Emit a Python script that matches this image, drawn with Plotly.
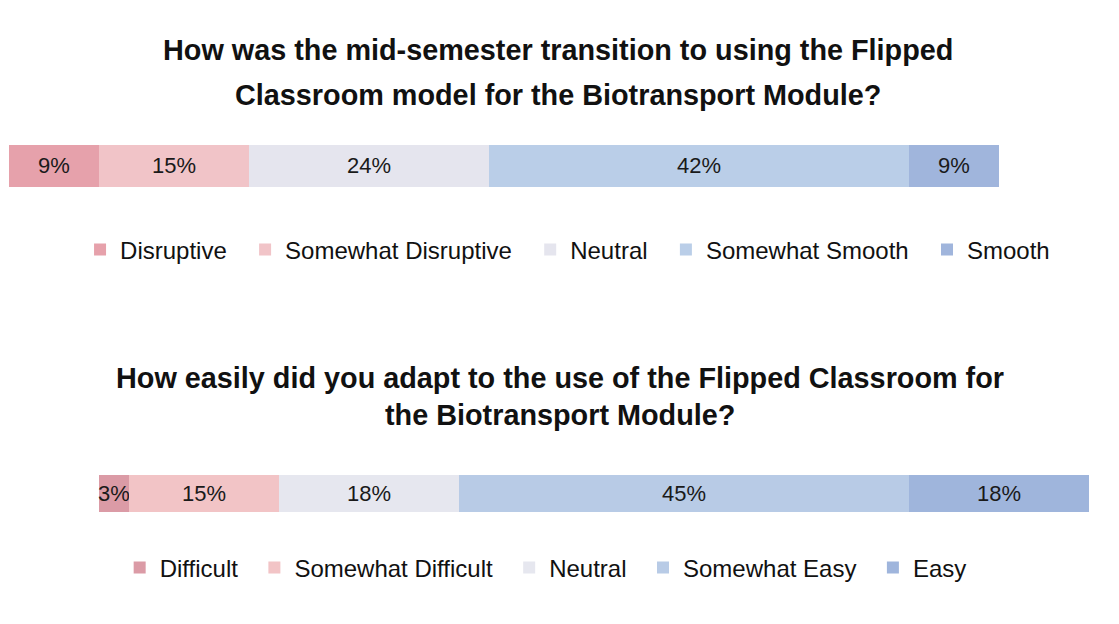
import plotly.graph_objects as go

# ---- data ----
q1_title = ["How was the mid-semester transition to using the Flipped",
            "Classroom model for the Biotransport Module?"]
q1_labels = ["Disruptive", "Somewhat Disruptive", "Neutral", "Somewhat Smooth", "Smooth"]
q1_values = [9, 15, 24, 42, 9]

q2_title = ["How easily did you adapt to the use of the Flipped Classroom for",
            "the Biotransport Module?"]
q2_labels = ["Difficult", "Somewhat Difficult", "Neutral", "Somewhat Easy", "Easy"]
q2_values = [3, 15, 18, 45, 18]

q1_colors = ["#e6a1ab", "#f1c4c8", "#e5e5ee", "#bacee8", "#a0b5dc"]
q2_colors = ["#db9ba6", "#f2c4c6", "#e6e7ef", "#b8cbe6", "#9fb5dc"]

FONT = "Liberation Sans, Arial, sans-serif"

fig = go.Figure()


def add_stack(labels, values, colors, yaxis, legend, width, pad):
    # diverging: centre of the neutral segment sits at 0
    start = -(values[0] + values[1] + values[2] / 2)
    base = start
    for lab, val, col in zip(labels, values, colors):
        fig.add_trace(go.Bar(
            x=[val], y=[0], base=[base], orientation="h", name=lab + pad,
            marker=dict(color=col, line=dict(width=0)),
            width=width, yaxis=yaxis, xaxis="x", legend=legend,
            text=[f"{val}%"], textposition="inside", insidetextanchor="middle",
            textangle=0, constraintext="none",
            textfont=dict(size=22, color="#1a1a1a", family=FONT),
            hovertemplate=lab + ": %{x}%<extra></extra>",
        ))
        base += val


add_stack(q1_labels, q1_values, q1_colors, "y", "legend", 0.84, "\u00a0\u00a0")
add_stack(q2_labels, q2_values, q2_colors, "y2", "legend2", 0.74, "\u00a0\u2009")

title_font = dict(size=28.8, color="#111111", family=FONT)
annotations = []
for txt, ypx in zip(q1_title, [50, 95]):
    annotations.append(dict(text=f"<b>{txt}</b>", x=0.4987, y=1 - ypx / 624,
                            xref="paper", yref="paper", xanchor="center",
                            yanchor="middle", showarrow=False, font=title_font))
for txt, ypx in zip(q2_title, [378, 415]):
    annotations.append(dict(text=f"<b>{txt}</b>", x=0.5005, y=1 - ypx / 624,
                            xref="paper", yref="paper", xanchor="center",
                            yanchor="middle", showarrow=False, font=title_font))

legend_common = dict(orientation="h", xanchor="center", yanchor="middle",
                     font=dict(size=24, color="#111111", family=FONT),
                     bgcolor="rgba(0,0,0,0)", traceorder="normal")

fig.update_layout(
    width=1119, height=624,
    margin=dict(l=0, r=0, t=0, b=0),
    paper_bgcolor="white", plot_bgcolor="white",
    barmode="overlay",
    showlegend=True,
    xaxis=dict(range=[-36.9, 75.0], visible=False, domain=[0, 1], fixedrange=True),
    yaxis=dict(range=[-1, 1], visible=False, domain=[0.654, 0.814]),
    yaxis2=dict(range=[-1, 1], visible=False, domain=[0.129, 0.289], anchor="x"),
    legend=dict(x=0.513, y=1 - 250 / 624, **legend_common),
    legend2=dict(x=0.493, y=1 - 568 / 624, **legend_common),
    annotations=annotations,
)

fig.write_html("out.html", config={"displayModeBar": False},
               post_script="document.body.style.margin='0';document.body.style.overflow='hidden';")
